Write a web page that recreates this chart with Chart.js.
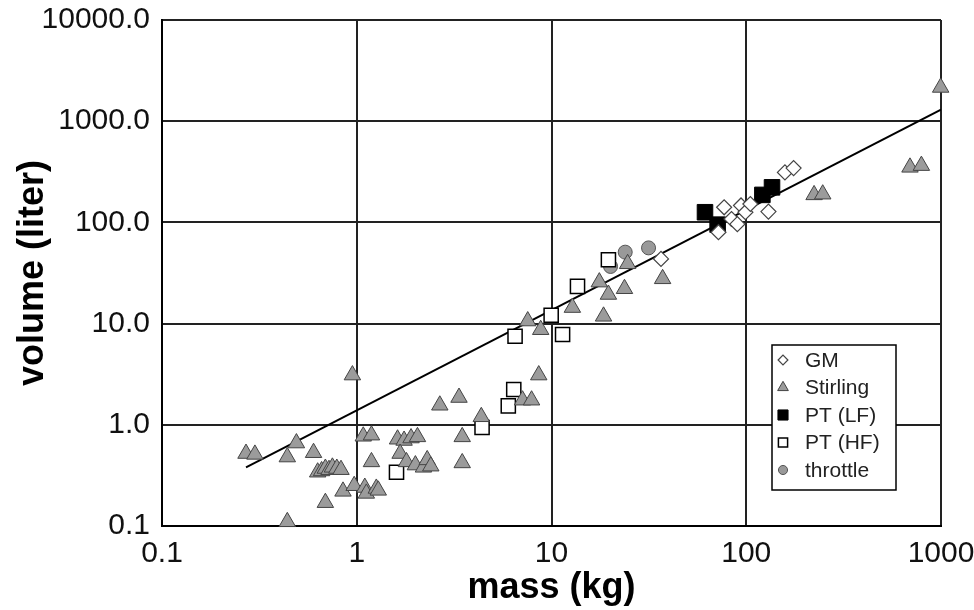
<!DOCTYPE html>
<html>
<head>
<meta charset="utf-8">
<script src="https://cdn.jsdelivr.net/npm/chart.js@4/dist/chart.umd.min.js"></script>
<style>
  html, body { margin: 0; padding: 0; background: #fff; }
  #wrap { width: 974px; height: 610px; position: relative; }
</style>
</head>
<body>
<div id="wrap"><canvas id="chart"></canvas></div>
<script>
// mass (kg), volume (liter) per cooler type
const gmPoints = [
    [36.5, 43.6], [72, 80], [77, 141], [84, 108], [90, 96], [94, 147],
    [99, 126], [105, 152], [130, 128], [158, 312], [175, 344]
];
const stirlingPoints = [
    [0.27, 0.52], [0.30, 0.51], [0.44, 0.48], [0.49, 0.66], [0.60, 0.53],
    [0.63, 0.34], [0.66, 0.35], [0.69, 0.37], [0.72, 0.36], [0.75, 0.38],
    [0.79, 0.37], [0.83, 0.36], [0.85, 0.22], [0.69, 0.17], [0.44, 0.11],
    [0.95, 3.1], [1.08, 0.77], [1.19, 0.79], [1.19, 0.43], [0.97, 0.25],
    [1.10, 0.24], [1.12, 0.21], [1.26, 0.235], [1.29, 0.225],
    [1.62, 0.72], [1.75, 0.70], [1.9, 0.74], [2.05, 0.76], [1.67, 0.52],
    [1.8, 0.43], [2.0, 0.40], [2.2, 0.38], [2.3, 0.45], [2.4, 0.39],
    [2.67, 1.56], [3.35, 1.86], [4.36, 1.2], [3.48, 0.76], [3.48, 0.42],
    [7.1, 1.75], [7.9, 1.75], [8.6, 3.1], [7.55, 10.6], [8.8, 8.7],
    [12.8, 14.4], [17.6, 25.7], [19.6, 19.4], [23.7, 22.1], [18.5, 11.8],
    [24.6, 39], [37.2, 27.7], [223, 187], [247, 190], [693, 350],
    [793, 364], [996, 2155]
];
const ptLfPoints = [[61.4, 126], [71.3, 95], [121, 187], [135.6, 222]];
const ptHfPoints = [
    [1.6, 0.34], [4.4, 0.94], [6.0, 1.54], [6.4, 2.23], [6.5, 7.5],
    [9.96, 12.1], [11.4, 7.8], [13.6, 23.3], [19.6, 42.7]
];
const throttlePoints = [[20.1, 36.7], [23.9, 50.8], [31.5, 56]];
// power-law fit through all coolers
const fitLine = [[0.27, 0.38], [1000, 1300]];

const xTicks = [0.1, 1, 10, 100, 1000];
const yTicks = [0.1, 1, 10, 100, 1000, 10000];

const toXY = pts => pts.map(p => ({ x: p[0], y: p[1] }));

const FONT = "'Liberation Sans', Arial, Helvetica, sans-serif";

const seriesStyles = [
    { label: 'GM', data: gmPoints, pointStyle: 'rectRot', radius: 7.5, bg: '#fff', border: '#444', bw: 1.2 },
    { label: 'Stirling', data: stirlingPoints, pointStyle: 'triangle', radius: 9.5, bg: '#9b9b9b', border: '#444', bw: 1 },
    { label: 'PT (LF)', data: ptLfPoints, pointStyle: 'rect', radius: 11, bg: '#000', border: '#000', bw: 1 },
    { label: 'PT (HF)', data: ptHfPoints, pointStyle: 'rect', radius: 10, bg: '#fff', border: '#000', bw: 1.5 },
    { label: 'throttle', data: throttlePoints, pointStyle: 'circle', radius: 7, bg: '#999', border: '#555', bw: 1 }
];

const datasets = seriesStyles.map((s, i) => ({
    type: 'scatter',
    label: s.label,
    data: toXY(s.data),
    pointStyle: s.pointStyle,
    pointRadius: s.radius,
    pointBackgroundColor: s.bg,
    pointBorderColor: s.border,
    pointBorderWidth: s.bw,
    clip: false,
    order: i
}));

datasets.push({
    type: 'line',
    label: 'fit',
    data: toXY(fitLine),
    borderColor: '#000',
    borderWidth: 2,
    pointRadius: 0,
    fill: false,
    order: 10
});

// boxed legend in the lower right of the plot
const legendBox = {
    id: 'legendBox',
    afterDraw(chart) {
        const ctx = chart.ctx;
        const ca = chart.chartArea;
        const left = ca.right - 169, top = ca.top + 325;
        const w = 124, h = 145;
        ctx.save();
        ctx.fillStyle = '#fff';
        ctx.fillRect(left, top, w, h);
        ctx.strokeStyle = '#000';
        ctx.lineWidth = 1.5;
        ctx.strokeRect(left, top, w, h);
        ctx.font = '21px ' + FONT;
        ctx.textBaseline = 'middle';
        seriesStyles.forEach((s, i) => {
            const y = top + 15 + i * 27.5;
            ctx.fillStyle = s.bg;
            ctx.strokeStyle = s.border;
            ctx.lineWidth = s.bw;
            Chart.helpers.drawPoint(ctx, {
                pointStyle: s.pointStyle, radius: s.radius * 0.65, rotation: 0, borderWidth: s.bw
            }, left + 11, y);
            ctx.fillStyle = '#222';
            ctx.fillText(s.label, left + 33, y + 1);
        });
        ctx.restore();
    }
};

new Chart(document.getElementById('chart'), {
    data: { datasets: datasets },
    options: {
        responsive: true,
        maintainAspectRatio: false,
        animation: false,
        layout: { padding: { top: 20, right: 33, left: 0, bottom: 0 } },
        plugins: { legend: { display: false }, tooltip: { enabled: false } },
        scales: {
            x: {
                type: 'logarithmic',
                min: 0.1,
                max: 1000,
                afterBuildTicks: scale => { scale.ticks = xTicks.map(v => ({ value: v })); },
                afterFit: scale => {
                    scale.height = 84;
                    scale.paddingLeft = 0;
                    scale.paddingRight = 0;
                },
                ticks: {
                    color: '#111',
                    font: { family: FONT, size: 30 },
                    padding: 10,
                    maxRotation: 0,
                    autoSkip: false,
                    callback: v => String(v)
                },
                grid: { color: '#222', lineWidth: 2, drawTicks: false },
                border: { color: '#000', width: 2 },
                title: {
                    display: true,
                    text: 'mass (kg)',
                    color: '#000',
                    font: { family: FONT, size: 36, weight: 'bold' },
                    padding: 0
                }
            },
            y: {
                type: 'logarithmic',
                min: 0.1,
                max: 10000,
                afterBuildTicks: scale => { scale.ticks = yTicks.map(v => ({ value: v })); },
                afterFit: scale => {
                    scale.width = 162;
                    scale.paddingTop = 0;
                    scale.paddingBottom = 0;
                },
                ticks: {
                    color: '#111',
                    font: { family: FONT, size: 30 },
                    padding: 12,
                    autoSkip: false,
                    callback: v => Number(v).toFixed(1)
                },
                grid: { color: '#222', lineWidth: 2, drawTicks: false },
                border: { color: '#000', width: 2 },
                title: {
                    display: true,
                    text: 'volume (liter)',
                    color: '#000',
                    font: { family: FONT, size: 36, weight: 'bold' },
                    padding: { top: 11, bottom: 0 }
                }
            }
        }
    },
    plugins: [legendBox]
});
</script>
</body>
</html>
